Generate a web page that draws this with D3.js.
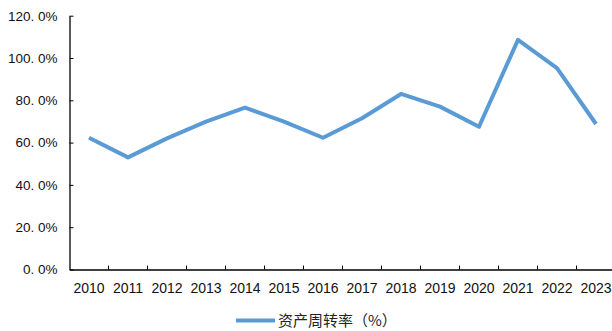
<!DOCTYPE html>
<html><head><meta charset="utf-8">
<script src="https://cdn.jsdelivr.net/npm/d3@7"></script>
<style>body{margin:0;background:#fff;}svg{display:block;}</style>
</head><body>
<svg id="c" width="612" height="331"></svg>
<script>
const years = ["2010","2011","2012","2013","2014","2015","2016","2017","2018","2019","2020","2021","2022","2023"];
const turnover = [62.3, 53.0, 62.0, 69.9, 76.5, 69.9, 62.3, 71.5, 83.0, 77.0, 67.5, 108.6, 95.2, 68.8];
const yTicks = [0, 20, 40, 60, 80, 100, 120];
const seriesName = "资产周转率（%）";

(function () {
const svg = d3.select("#c");
const mLeft = 69.5, mRight = 615.5, mTop = 15.7, mBottom = 269.5;
const x = d3.scaleBand().domain(years).range([mLeft, mRight]);
const y = d3.scaleLinear().domain([0, 120]).range([mBottom, mTop]);

const fmt = d => d.toFixed(1).replace(".", ". ") + "%";

const yAxis = svg.append("g").attr("transform", `translate(${mLeft},0)`)
  .call(d3.axisLeft(y).tickValues(yTicks).tickFormat(fmt).tickSizeInner(-4).tickSizeOuter(0).tickPadding(12));
yAxis.select(".domain").attr("stroke", "#000").attr("stroke-width", 1.3);
yAxis.selectAll(".tick line").attr("stroke", "#000");
yAxis.selectAll("text").attr("font-family", "Liberation Sans, Arial, sans-serif").attr("font-size", 13.5).attr("fill", "#111");

const xAxis = svg.append("g").attr("transform", `translate(0,${mBottom})`)
  .call(d3.axisBottom(x).tickSize(0).tickPadding(14));
xAxis.select(".domain").attr("stroke", "#000").attr("stroke-width", 1.3);
xAxis.selectAll("text").attr("font-family", "Liberation Sans, Arial, sans-serif").attr("font-size", 14).attr("fill", "#111");
svg.append("g").selectAll("line").data(years.slice(1)).join("line")
  .attr("x1", d => x(d)).attr("x2", d => x(d))
  .attr("y1", mBottom).attr("y2", mBottom - 4)
  .attr("stroke", "#000").attr("stroke-width", 1);

const line = d3.line().x((d, i) => x(years[i]) + x.bandwidth() / 2).y(d => y(d));
svg.append("path").datum(turnover).attr("d", line)
  .attr("fill", "none").attr("stroke", "#5B9BD5").attr("stroke-width", 4)
  .attr("stroke-linejoin", "round").attr("stroke-linecap", "butt");

const lg = svg.append("g");
lg.append("line").attr("x1", 236).attr("x2", 275).attr("y1", 320.5).attr("y2", 320.5)
  .attr("stroke", "#5B9BD5").attr("stroke-width", 4);
lg.append("text").attr("x", 278).attr("y", 326).text(seriesName)
  .attr("font-family", "Noto Sans CJK SC, sans-serif").attr("font-size", 15).attr("fill", "#222");
})();
</script>
</body></html>
